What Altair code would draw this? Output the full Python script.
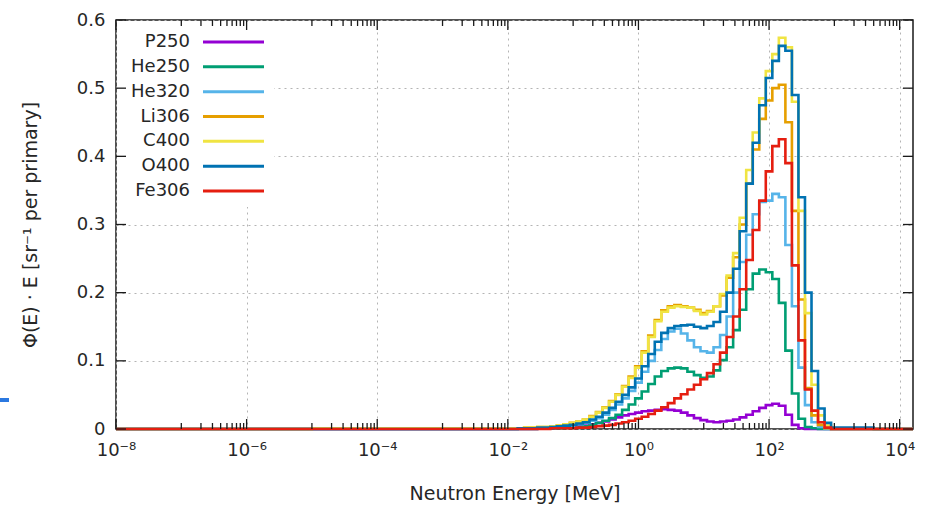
import json
import altair as alt
import pandas as pd

# ---------------- data ----------------
names = ["P250", "He250", "He320", "Li306", "C400", "O400", "Fe306"]
colors = ["#9400d3", "#009e73", "#56b4e9", "#e69f00", "#f0e442", "#0072b2", "#e51e10"]

# bin centres in log10(E / MeV): -2.0, -1.9, ..., 3.0
log_e = [round(-2.0 + 0.1 * i, 1) for i in range(51)]
e_min, e_max = 1e-8, 1.6e4

p250 = [0, 0, 0, 0, 0, 0.001, 0.001, 0.001, 0.002, 0.002,
        0.003, 0.004, 0.005, 0.007, 0.009, 0.011, 0.014, 0.017, 0.020, 0.022,
        0.024, 0.026, 0.027, 0.028, 0.029, 0.028, 0.027, 0.024, 0.020, 0.016,
        0.013, 0.011, 0.010, 0.011, 0.012, 0.014, 0.017, 0.021, 0.026, 0.031,
        0.035, 0.037, 0.034, 0.021, 0.006, 0.001, 0, 0, 0, 0, 0]
he250 = [0, 0, 0, 0, 0, 0.001, 0.001, 0.001, 0.001, 0.002,
         0.002, 0.003, 0.004, 0.006, 0.009, 0.012, 0.016, 0.021, 0.028, 0.036,
         0.045, 0.055, 0.066, 0.077, 0.085, 0.089, 0.090, 0.089, 0.084, 0.079,
         0.075, 0.077, 0.086, 0.101, 0.120, 0.145, 0.175, 0.205, 0.228, 0.234,
         0.230, 0.220, 0.185, 0.115, 0.052, 0.015, 0.003, 0.001, 0, 0, 0]
he320 = [0, 0, 0.001, 0.001, 0.001, 0.001, 0.002, 0.002, 0.003, 0.004,
         0.005, 0.007, 0.009, 0.012, 0.016, 0.021, 0.028, 0.036, 0.045, 0.056,
         0.068, 0.084, 0.100, 0.116, 0.132, 0.143, 0.147, 0.140, 0.130, 0.120,
         0.114, 0.112, 0.120, 0.138, 0.165, 0.200, 0.245, 0.285, 0.315, 0.333,
         0.335, 0.345, 0.340, 0.270, 0.180, 0.090, 0.035, 0.010, 0.003, 0, 0]
li306 = [0.001, 0.001, 0.001, 0.002, 0.002, 0.003, 0.003, 0.004, 0.005, 0.007,
         0.009, 0.011, 0.014, 0.019, 0.025, 0.032, 0.041, 0.051, 0.063, 0.077,
         0.092, 0.114, 0.137, 0.160, 0.174, 0.180, 0.182, 0.180, 0.178, 0.175,
         0.170, 0.173, 0.180, 0.196, 0.222, 0.252, 0.300, 0.360, 0.410, 0.455,
         0.482, 0.500, 0.505, 0.450, 0.320, 0.190, 0.060, 0.020, 0.006, 0.001, 0]
c400 = [0.001, 0.001, 0.001, 0.002, 0.002, 0.003, 0.003, 0.004, 0.005, 0.007,
        0.009, 0.011, 0.014, 0.018, 0.024, 0.031, 0.040, 0.050, 0.062, 0.075,
        0.090, 0.112, 0.135, 0.158, 0.172, 0.178, 0.180, 0.179, 0.178, 0.173,
        0.168, 0.172, 0.180, 0.198, 0.225, 0.258, 0.310, 0.380, 0.435, 0.485,
        0.525, 0.550, 0.574, 0.560, 0.480, 0.320, 0.170, 0.065, 0.020, 0.005, 0.001]
o400 = [0, 0, 0.001, 0.001, 0.001, 0.002, 0.002, 0.003, 0.004, 0.005,
        0.006, 0.008, 0.010, 0.014, 0.018, 0.024, 0.031, 0.040, 0.050, 0.061,
        0.074, 0.092, 0.110, 0.128, 0.141, 0.148, 0.151, 0.152, 0.153, 0.150,
        0.148, 0.151, 0.157, 0.172, 0.200, 0.235, 0.290, 0.360, 0.420, 0.475,
        0.515, 0.540, 0.562, 0.555, 0.490, 0.340, 0.200, 0.085, 0.030, 0.009, 0.002]
fe306 = [0, 0, 0, 0, 0, 0, 0, 0.001, 0.001, 0.001,
         0.001, 0.002, 0.002, 0.003, 0.004, 0.005, 0.006, 0.008, 0.010, 0.012,
         0.015, 0.018, 0.022, 0.027, 0.032, 0.038, 0.045, 0.051, 0.058, 0.065,
         0.073, 0.082, 0.095, 0.112, 0.135, 0.165, 0.205, 0.248, 0.292, 0.335,
         0.378, 0.415, 0.425, 0.390, 0.240, 0.130, 0.058, 0.027, 0.010, 0.002, 0]

series = [p250, he250, he320, li306, c400, o400, fe306]

x_major = [1e-8, 1e-6, 1e-4, 1e-2, 1e0, 1e2, 1e4]
x_major_labels = ["10⁻⁸", "10⁻⁶", "10⁻⁴", "10⁻²", "10⁰", "10²", "10⁴"]
x_minor = [k * 10.0 ** m for m in (-7, -5, -3, -1, 1, 3) for k in range(1, 10)]
y_major = [0, 0.1, 0.2, 0.3, 0.4, 0.5, 0.6]

x_title = "Neutron Energy [MeV]"
y_title = "Φ(E) · E  [sr⁻¹ per primary]"

# ---------------- styling ----------------
W, H = 797, 409
FONT = "DejaVu Sans"
FS = 18
TXT = "#262626"
GRID = "#b4b4b4"

xscale = alt.Scale(type="log", domain=[e_min, e_max])
yscale = alt.Scale(domain=[0, 0.6], nice=False, zero=True)

label_expr = "%s[round((log(datum.value) / LN10 + 8) / 2)]" % json.dumps(x_major_labels, ensure_ascii=False)

x_axis = alt.Axis(values=x_major, grid=True, gridDash=[2, 4], gridColor=GRID, gridWidth=1,
                  ticks=False, tickSize=0, domain=False, labelExpr=label_expr,
                  labelFont=FONT, labelFontSize=18, labelColor=TXT, labelPadding=12,
                  labelFlush=False, labelOverlap=False, labelBound=False,
                  title=x_title, titleFont=FONT, titleFontSize=19, titleFontWeight="normal",
                  titleColor=TXT, titleX=W / 2, titleY=64, titleAlign="center",
                  titleBaseline="middle")
y_axis = alt.Axis(values=y_major, grid=True, gridDash=[2, 4], gridColor=GRID, gridWidth=1,
                  ticks=False, tickSize=0, domain=False,
                  labelExpr="datum.value == 0 ? '0' : format(datum.value, '.1f')",
                  labelFont=FONT, labelFontSize=FS, labelColor=TXT, labelPadding=11,
                  labelFlush=False,
                  title=y_title, titleFont=FONT, titleFontSize=19, titleFontWeight="normal",
                  titleColor=TXT, titleAngle=270, titleX=-86, titleY=H / 2,
                  titleAlign="center", titleBaseline="middle")

X = alt.X("E:Q", scale=xscale, axis=x_axis)

layers = []

# axes / grid carrier (invisible)
axis_df = pd.DataFrame({"E": [e_min, e_max], "v": [0, 0.6]})
layers.append(alt.Chart(axis_df).mark_point(opacity=0).encode(
    x=X, y=alt.Y("v:Q", scale=yscale, axis=y_axis)))

# opaque key box
layers.append(alt.Chart(axis_df).mark_rect(color="white").encode(
    x=alt.value(2), x2=alt.value(158), y=alt.value(2), y2=alt.value(187)))

# spectra (drawn in key order, Fe306 last/on top)
for name, col, vals in zip(names, colors, series):
    energies = [e_min] + [10.0 ** v for v in log_e] + [e_max]
    values = [0.0] + list(vals) + [0.0]
    df = pd.DataFrame({"E": energies, "v": values, "s": name})
    layers.append(alt.Chart(df).mark_line(interpolate="step", strokeWidth=2.6, color=col).encode(
        x=X, y=alt.Y("v:Q", scale=yscale, axis=None)))

# key (label left, line sample right)
key_df = pd.DataFrame({"name": names})
key_y = alt.Y("name:N", scale=alt.Scale(type="point", domain=names, range=[22, 171], padding=0), axis=None)
key_color = alt.Color("name:N", scale=alt.Scale(domain=names, range=colors), legend=None)
layers.append(alt.Chart(key_df).mark_text(align="right", baseline="middle", font=FONT,
                                          fontSize=FS, color=TXT).encode(
    x=alt.value(74), y=key_y, text="name:N"))
layers.append(alt.Chart(key_df).mark_rule(strokeWidth=3).encode(
    x=alt.value(87), x2=alt.value(148), y=key_y, color=key_color))

# inward ticks (gnuplot style)
xmaj_df = pd.DataFrame({"E": x_major})
xmin_df = pd.DataFrame({"E": x_minor})
ymaj_df = pd.DataFrame({"v": y_major})
tick_style = dict(color="#1a1a1a", strokeWidth=1.3)
for df, ln in ((xmaj_df, 10), (xmin_df, 6)):
    layers.append(alt.Chart(df).mark_rule(**tick_style).encode(
        x=X, y=alt.value(H), y2=alt.value(H - ln)))
    layers.append(alt.Chart(df).mark_rule(**tick_style).encode(
        x=X, y=alt.value(0), y2=alt.value(ln)))
layers.append(alt.Chart(ymaj_df).mark_rule(**tick_style).encode(
    y=alt.Y("v:Q", scale=yscale, axis=None), x=alt.value(0), x2=alt.value(10)))
layers.append(alt.Chart(ymaj_df).mark_rule(**tick_style).encode(
    y=alt.Y("v:Q", scale=yscale, axis=None), x=alt.value(W), x2=alt.value(W - 10)))

# small blue slide mark at the far left
layers.append(alt.Chart(axis_df).mark_rule(color="#2b78e0", strokeWidth=4).encode(
    x=alt.value(-116), x2=alt.value(-107), y=alt.value(380)))

chart = (alt.layer(*layers)
         .resolve_scale(y="independent", color="independent")
         .properties(width=W, height=H,
                     autosize=alt.AutoSizeParams(type="none"),
                     padding={"left": 116, "top": 20, "right": 14, "bottom": 76},
                     background="white")
         .configure_view(stroke="#1a1a1a", strokeWidth=1.5))

chart.save("out.html", embed_options={"renderer": "svg", "actions": False})
